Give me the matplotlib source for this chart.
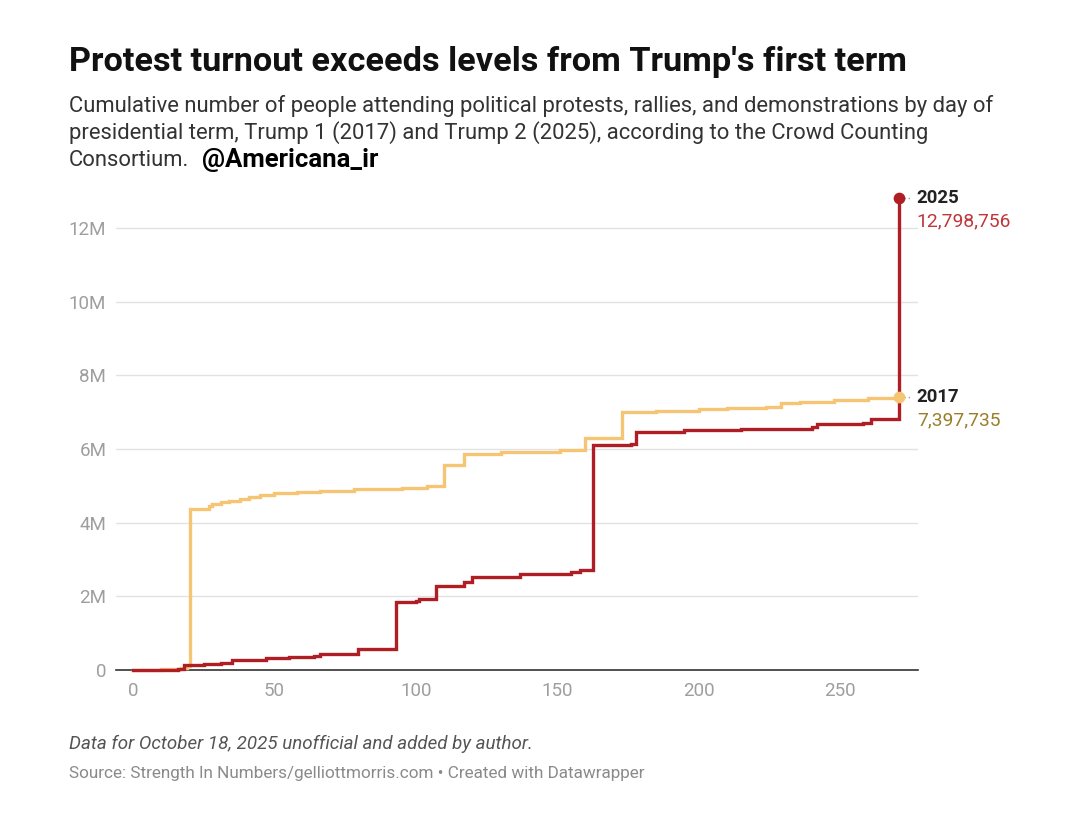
import matplotlib
matplotlib.use('Agg')
import matplotlib.pyplot as plt
from matplotlib.ticker import FuncFormatter

plt.rcParams['font.family'] = ['Roboto', 'DejaVu Sans']

# day of term and cumulative turnout (millions)
days_2017 = [0, 10, 17, 19, 20, 27, 28, 31, 34, 38, 41, 45, 50, 58, 66, 78, 95, 104,
             110, 117, 130, 151, 160, 173, 185, 200, 210, 224, 229, 236, 248, 260, 271]
turnout_2017 = [0, 0.02, 0.05, 0.12, 4.37, 4.45, 4.5, 4.55, 4.6, 4.63, 4.7, 4.75, 4.8,
                4.83, 4.87, 4.9, 4.93, 5.0, 5.57, 5.87, 5.92, 5.97, 6.3, 7.0, 7.03,
                7.07, 7.1, 7.15, 7.24, 7.28, 7.33, 7.37, 7.397735]

days_2025 = [0, 16, 18, 25, 31, 35, 47, 55, 64, 66, 79.5, 93, 100, 101, 107, 117, 120,
             137, 155, 158, 162.5, 176, 178, 195, 215, 240, 242, 258, 261, 271]
turnout_2025 = [0, 0.03, 0.13, 0.16, 0.2, 0.27, 0.32, 0.35, 0.38, 0.43, 0.57, 1.85, 1.87,
                1.93, 2.28, 2.4, 2.53, 2.6, 2.66, 2.72, 6.11, 6.13, 6.47, 6.52, 6.55,
                6.6, 6.68, 6.71, 6.81, 12.798756]

x_ticks = [0, 50, 100, 150, 200, 250]
y_ticks = [0, 2, 4, 6, 8, 10, 12]

RED = '#b01e25'
GOLD = '#f6c574'

W, H = 1080, 814
fig = plt.figure(figsize=(W / 100, H / 100), dpi=100)

"""axes placed by pixel edges of the original"""
left, right, top_px, zero_px = 116, 918, 191, 670
ax = fig.add_axes([left / W, 1 - zero_px / H, (right - left) / W, (zero_px - top_px) / H])

ax.plot(days_2017, turnout_2017, drawstyle='steps-post', color=GOLD, lw=2.4,
        zorder=3, clip_on=False, solid_joinstyle='miter')
ax.plot(days_2025, turnout_2025, drawstyle='steps-post', color=RED, lw=2.4,
        zorder=4, clip_on=False, solid_joinstyle='miter')
ax.scatter([days_2017[-1]], [turnout_2017[-1]], s=55, color=GOLD, zorder=5, clip_on=False)
ax.scatter([days_2025[-1]], [turnout_2025[-1]], s=55, color=RED, zorder=6, clip_on=False)

ax.set_xlim(-6.0, 277.6)
ax.set_ylim(0, 13)
ax.set_xticks(x_ticks)
ax.set_yticks(y_ticks)
ax.yaxis.set_major_formatter(FuncFormatter(lambda v, p: '0' if v == 0 else '%dM' % v))
ax.tick_params(length=0, labelsize=13.5, labelcolor='#9e9e9e', pad=7)
ax.tick_params(axis='x', pad=9)
ax.grid(axis='y', color='#e2e2e2', lw=1)
ax.set_axisbelow(True)
for s in ['top', 'right', 'left']:
    ax.spines[s].set_visible(False)
ax.spines['bottom'].set_color('#333333')
ax.spines['bottom'].set_linewidth(1.2)

"""end labels with small dotted leaders"""
for d, v, name, num, c in [(days_2025[-1], turnout_2025[-1], '2025', '12,798,756', '#c0363a'),
                           (days_2017[-1], turnout_2017[-1], '2017', '7,397,735', '#9a7d2a')]:
    ax.plot([d + 1.5, d + 4.3], [v, v], ls=(0, (1, 2)), color='#999999', lw=1, clip_on=False)
    ax.text(d + 6.2, v, name, fontsize=13.4, fontweight='bold', color='#222222',
            va='center', ha='left')
    ax.text(d + 6.2, v - 0.62, num, fontsize=13.9, color=c, va='center', ha='left')

def fy(px):
    return 1 - px / H

fig.text(69 / W, fy(71), "Protest turnout exceeds levels from Trump's first term",
         fontsize=24.7, fontweight='bold', color='#111111', va='baseline')
sub = ["Cumulative number of people attending political protests, rallies, and demonstrations by day of",
       "presidential term, Trump 1 (2017) and Trump 2 (2025), according to the Crowd Counting",
       "Consortium."]
for i, line in enumerate(sub):
    fig.text(69 / W, fy(112 + 27 * i), line, fontsize=15.8, color='#333333', va='baseline')
fig.text(202 / W, fy(167), '@Americana_ir', fontsize=18.5, fontweight='bold',
         color='#000000', va='baseline')

fig.text(69 / W, fy(749), 'Data for October 18, 2025 unofficial and added by author.',
         fontsize=13.5, style='italic', color='#555555', va='baseline')
fig.text(69 / W, fy(778), 'Source: Strength In Numbers/gelliottmorris.com \u2022 Created with Datawrapper',
         fontsize=12.3, color='#8a8a8a', va='baseline')

fig.savefig('out.png', dpi=100, facecolor='white')
